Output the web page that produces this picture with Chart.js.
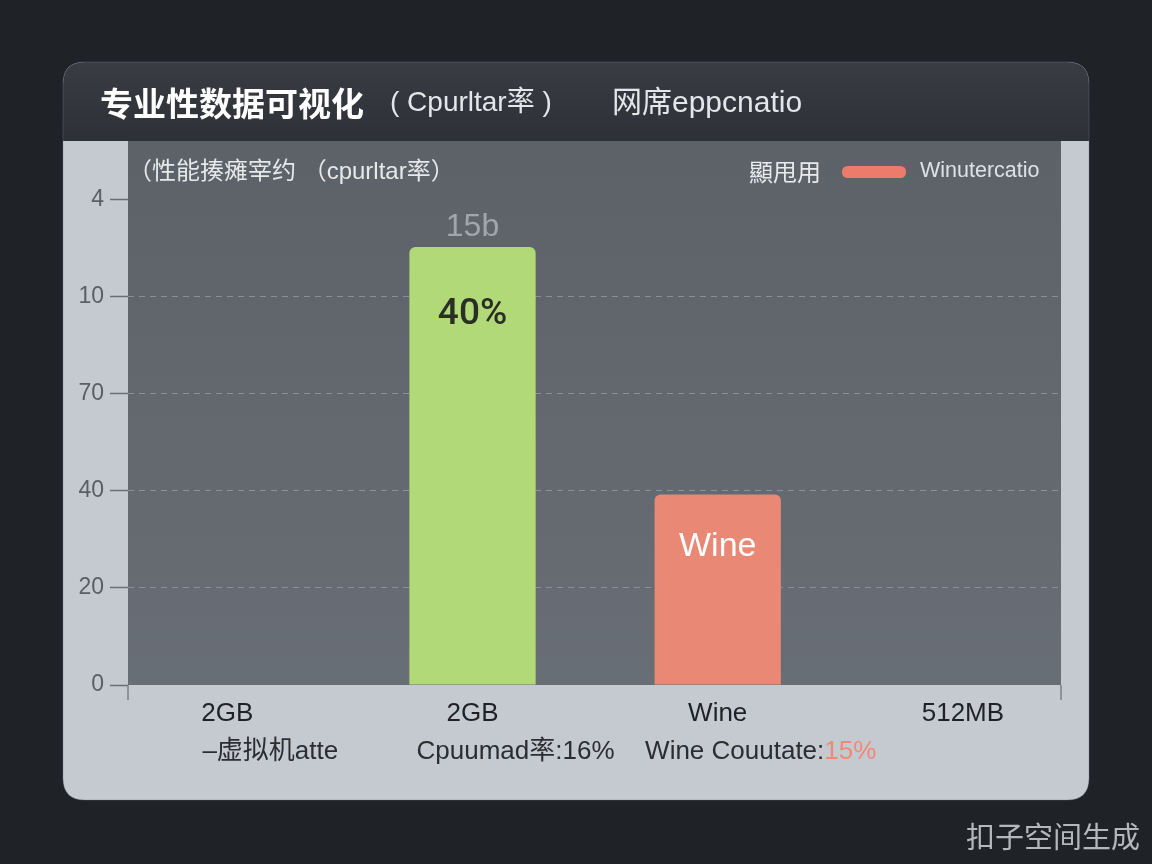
<!DOCTYPE html>
<html>
<head>
<meta charset="utf-8">
<script src="https://cdn.jsdelivr.net/npm/chart.js@4"></script>
<style>
  html, body { margin: 0; padding: 0; background: #1f2226; }
  #wrap { width: 1152px; height: 864px; }
</style>
</head>
<body>
<div id="wrap"><canvas id="c" width="1152" height="864"></canvas></div>
<script>
const categories = ['2GB', '2GB', 'Wine', '512MB'];
const values = [null, 45.1, 19.6, null];
const barColors = ['#b2d977', '#b2d977', '#ea8876', '#ea8876'];
const yTickLabels = ['0', '20', '40', '70', '10', '4'];
const topLabels = ['', '15b', '', ''];
const innerLabels = ['', '40%', 'Wine', ''];
const innerColors = ['#2a2f25', '#2a2f25', '#ffffff', '#ffffff'];
const subLabels = ['–虚拟机atte', 'Cpuumad率:16%', 'Wine Couutate:', ''];
const subLabelAccent = ['', '', '15%', ''];
const titleMain = '专业性数据可视化';
const titleParen = '( Cpurltar率 )';
const titleTail = '网席eppcnatio';
const subtitle = '（性能揍瘫宰约 （cpurltar率）';
const legendPrefix = '顯甩用';
const legendLabel = 'Winutercatio';
const watermark = '扣子空间生成';

const FONT = '"Liberation Sans", "Noto Sans CJK SC", sans-serif';

// bars placed on a linear index axis, built from the arrays above
const points = [];
values.forEach((v, i) => { if (v != null) points.push({ x: i, y: v }); });
const pointColors = points.map(p => barColors[p.x]);

function roundRect(ctx, x, y, w, h, r) {
  ctx.beginPath();
  ctx.moveTo(x + r, y);
  ctx.lineTo(x + w - r, y);
  ctx.quadraticCurveTo(x + w, y, x + w, y + r);
  ctx.lineTo(x + w, y + h - r);
  ctx.quadraticCurveTo(x + w, y + h, x + w - r, y + h);
  ctx.lineTo(x + r, y + h);
  ctx.quadraticCurveTo(x, y + h, x, y + h - r);
  ctx.lineTo(x, y + r);
  ctx.quadraticCurveTo(x, y, x + r, y);
  ctx.closePath();
}

const backgroundPlugin = {
  id: 'cardBg',
  beforeDraw(chart) {
    const ctx = chart.ctx;
    const a = chart.chartArea;
    ctx.save();
    ctx.fillStyle = '#1f2226';
    ctx.fillRect(0, 0, chart.width, chart.height);
    const cx = 63, cy = 62, cw = 1026, ch = 738;
    roundRect(ctx, cx, cy, cw, ch, 22);
    ctx.fillStyle = '#c5c9d0';
    ctx.fill();
    ctx.save();
    roundRect(ctx, cx, cy, cw, ch, 22);
    ctx.clip();
    const hg = ctx.createLinearGradient(0, cy, 0, a.top);
    hg.addColorStop(0, '#393c43');
    hg.addColorStop(1, '#2d3036');
    ctx.fillStyle = hg;
    ctx.fillRect(cx, cy, cw, a.top - cy);
    ctx.restore();
    roundRect(ctx, cx, cy, cw, ch, 22);
    ctx.strokeStyle = 'rgba(120,125,132,0.35)';
    ctx.lineWidth = 1;
    ctx.stroke();
    const pg = ctx.createLinearGradient(0, a.top, 0, a.bottom);
    pg.addColorStop(0, '#5d6269');
    pg.addColorStop(1, '#686e75');
    ctx.fillStyle = pg;
    ctx.fillRect(a.left, a.top, a.right - a.left, a.bottom - a.top);
    ctx.restore();
  },
  afterDraw(chart) {
    const ctx = chart.ctx;
    const a = chart.chartArea;
    const xs = chart.scales.x;
    ctx.save();
    // x-axis edge ticks
    ctx.strokeStyle = '#7b8087';
    ctx.lineWidth = 1.5;
    [a.left, a.right].forEach(px => {
      ctx.beginPath();
      ctx.moveTo(px, a.bottom);
      ctx.lineTo(px, a.bottom + 15);
      ctx.stroke();
    });
    ctx.textBaseline = 'middle';
    ctx.textAlign = 'left';
    // title
    ctx.fillStyle = '#ffffff';
    ctx.font = 'bold 33px "Noto Sans CJK SC", sans-serif';
    ctx.fillText(titleMain, 100, 103);
    ctx.fillStyle = '#e4e6e9';
    ctx.font = '28px ' + FONT;
    ctx.fillText(titleParen, 390, 103);
    ctx.font = '30px ' + FONT;
    ctx.fillText(titleTail, 612, 104);
    // subtitle
    ctx.fillStyle = '#e6e8ea';
    ctx.font = '24px ' + FONT;
    ctx.fillText(subtitle, 128, 172);
    // legend
    ctx.fillStyle = '#e8eaec';
    ctx.font = '24px "Noto Sans CJK SC", sans-serif';
    ctx.fillText(legendPrefix, 749, 172);
    roundRect(ctx, 842, 166, 64, 12, 6);
    ctx.fillStyle = '#ed7b6b';
    ctx.fill();
    ctx.fillStyle = '#dfe2e5';
    ctx.font = '21.5px ' + FONT;
    ctx.fillText(legendLabel, 920, 171);
    // bar labels
    const meta = chart.getDatasetMeta(0);
    meta.data.forEach((bar, j) => {
      const i = points[j].x;
      ctx.textAlign = 'center';
      if (topLabels[i]) {
        ctx.fillStyle = '#a1a6ac';
        ctx.font = '32px ' + FONT;
        ctx.fillText(topLabels[i], bar.x, bar.y - 20);
      }
      if (innerLabels[i]) {
        const light = innerColors[i] === '#ffffff';
        ctx.fillStyle = innerColors[i];
        ctx.font = light ? '34px ' + FONT : '500 37px Roboto, ' + FONT;
        ctx.fillText(innerLabels[i], bar.x, bar.y + (light ? 52 : 68));
      }
    });
    // second line of category labels
    ctx.font = '26px ' + FONT;
    subLabels.forEach((t, i) => {
      const full = t + subLabelAccent[i];
      if (!full) return;
      const cxp = xs.getPixelForValue(i) + 43;
      const w1 = ctx.measureText(t).width;
      const w = ctx.measureText(full).width;
      const start = cxp - w / 2;
      ctx.textAlign = 'left';
      ctx.fillStyle = '#2b2d30';
      ctx.fillText(t, start, 752);
      if (subLabelAccent[i]) {
        ctx.fillStyle = '#ef8a7a';
        ctx.fillText(subLabelAccent[i], start + w1, 752);
      }
    });
    // watermark
    ctx.textAlign = 'right';
    ctx.fillStyle = '#b4b7bb';
    ctx.font = '29px "Noto Sans CJK SC", sans-serif';
    ctx.fillText(watermark, 1140, 837);
    ctx.restore();
  }
};

new Chart(document.getElementById('c'), {
  type: 'bar',
  data: {
    datasets: [{
      data: points,
      backgroundColor: pointColors,
      borderRadius: 6,
      borderSkipped: 'bottom',
      categoryPercentage: 1.0,
      barPercentage: 0.515
    }]
  },
  options: {
    responsive: false,
    devicePixelRatio: 1,
    animation: false,
    layout: { padding: { left: 0, right: 91, top: 141, bottom: 119 } },
    plugins: {
      legend: { display: false },
      title: { display: false },
      tooltip: { enabled: false }
    },
    scales: {
      x: {
        type: 'linear',
        offset: false,
        min: -0.405,
        max: 3.40,
        afterFit(s) { s.height = 60; },
        grid: {
          drawOnChartArea: false,
          drawTicks: true,
          tickLength: 15,
          tickColor: 'rgba(0,0,0,0)'
        },
        border: { display: false },
        ticks: {
          stepSize: 1,
          includeBounds: false,
          autoSkip: false,
          maxRotation: 0,
          padding: -2,
          color: '#1f2124',
          font: { family: FONT, size: 26 },
          callback: (v) => categories[Math.round(v)] || ''
        }
      },
      y: {
        min: 0,
        max: 56,
        afterFit(s) { s.width = 128; },
        grid: {
          color: (c) => (c.tick && (c.tick.value === 50 || c.tick.value === 0)) ? 'rgba(0,0,0,0)' : 'rgba(170,176,184,0.55)',
          tickColor: '#6a6f76',
          tickLength: 18,
          tickWidth: 1.5,
          lineWidth: 1
        },
        border: { display: false, dash: [6, 5] },
        ticks: {
          stepSize: 10,
          includeBounds: false,
          padding: 6,
          color: '#5b5f65',
          font: { family: FONT, size: 23 },
          callback: (v) => yTickLabels[Math.round(v / 10)]
        }
      }
    }
  },
  plugins: [backgroundPlugin]
});
</script>
</body>
</html>
